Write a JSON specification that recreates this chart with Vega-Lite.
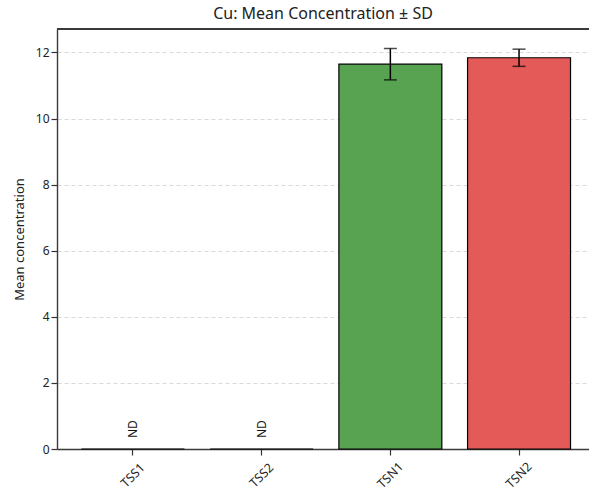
{
  "$schema": "https://vega.github.io/schema/vega-lite/v6.json",
  "width": 532,
  "height": 420,
  "autosize": {"type": "none"},
  "padding": {"left": 57, "top": 29, "right": 0, "bottom": 46},
  "background": "white",
  "config": {
    "font": "Noto Sans",
    "view": {"stroke": null},
    "axis": {"labelFont": "Noto Sans", "titleFont": "Noto Sans", "labelColor": "#222", "titleColor": "#222", "tickColor": "#333", "domain": true, "domainColor": "#3a3a3a", "domainWidth": 1.4, "tickWidth": 1.2}
  },
  "title": {"text": "Cu: Mean Concentration ± SD", "fontSize": 16, "fontWeight": "normal", "color": "#222", "offset": 6, "font": "Noto Sans"},
  "data": {
    "values": [
      {"site": "TSS1", "mean": 0, "sd": null, "label": "ND"},
      {"site": "TSS2", "mean": 0, "sd": null, "label": "ND"},
      {"site": "TSN1", "mean": 11.645, "sd": 0.475, "label": null},
      {"site": "TSN2", "mean": 11.84, "sd": 0.26, "label": null}
    ]
  },
  "layer": [
    {
      "mark": {"type": "bar", "stroke": "black", "strokeWidth": 1.2},
      "encoding": {
        "x": {
          "field": "site", "type": "nominal", "sort": ["TSS1", "TSS2", "TSN1", "TSN2"],
          "scale": {"paddingInner": 0.2, "paddingOuter": 0.167, "align": 0.57},
          "axis": {"title": null, "labelAngle": -45, "labelAlign": "center", "labelBaseline": "middle", "labelPadding": 20, "labelFontSize": 12.5, "tickSize": 6, "grid": false}
        },
        "y": {
          "field": "mean", "type": "quantitative",
          "scale": {"domain": [0, 12.71], "nice": false, "zero": true},
          "axis": {"title": "Mean concentration", "titleFontSize": 13, "titleFontWeight": "normal", "titlePadding": 9, "labelFontSize": 12, "tickSize": 6, "labelPadding": 2, "values": [0, 2, 4, 6, 8, 10, 12], "grid": true, "gridDash": [4, 3], "gridColor": "#cfcfcf", "gridWidth": 0.8}
        },
        "color": {
          "field": "site", "type": "nominal",
          "scale": {"domain": ["TSS1", "TSS2", "TSN1", "TSN2"], "range": ["#4c78a8", "#f58518", "#58a352", "#e45a59"]},
          "legend": null
        }
      }
    },
    {
      "mark": {"type": "rule", "color": "#3a3a3a", "strokeWidth": 1.4},
      "encoding": {"y": {"datum": 12.71, "type": "quantitative"}}
    },
    {
      "transform": [{"filter": "datum.sd != null"}, {"calculate": "datum.mean - datum.sd", "as": "lo"}, {"calculate": "datum.mean + datum.sd", "as": "hi"}],
      "mark": {"type": "rule", "color": "black", "strokeWidth": 1.5},
      "encoding": {
        "x": {"field": "site", "type": "nominal", "sort": ["TSS1", "TSS2", "TSN1", "TSN2"]},
        "y": {"field": "lo", "type": "quantitative"},
        "y2": {"field": "hi"}
      }
    },
    {
      "transform": [{"filter": "datum.sd != null"}, {"calculate": "datum.mean - datum.sd", "as": "v"}],
      "mark": {"type": "tick", "color": "black", "size": 13, "thickness": 1.5, "orient": "horizontal"},
      "encoding": {
        "x": {"field": "site", "type": "nominal", "sort": ["TSS1", "TSS2", "TSN1", "TSN2"]},
        "y": {"field": "v", "type": "quantitative"}
      }
    },
    {
      "transform": [{"filter": "datum.sd != null"}, {"calculate": "datum.mean + datum.sd", "as": "v"}],
      "mark": {"type": "tick", "color": "black", "size": 13, "thickness": 1.5, "orient": "horizontal"},
      "encoding": {
        "x": {"field": "site", "type": "nominal", "sort": ["TSS1", "TSS2", "TSN1", "TSN2"]},
        "y": {"field": "v", "type": "quantitative"}
      }
    },
    {
      "transform": [{"filter": "datum.label != null"}],
      "mark": {"type": "text", "angle": 270, "align": "left", "baseline": "middle", "dx": 11, "fontSize": 12, "color": "#111"},
      "encoding": {
        "x": {"field": "site", "type": "nominal", "sort": ["TSS1", "TSS2", "TSN1", "TSN2"]},
        "y": {"field": "mean", "type": "quantitative"},
        "text": {"field": "label"}
      }
    }
  ]
}
